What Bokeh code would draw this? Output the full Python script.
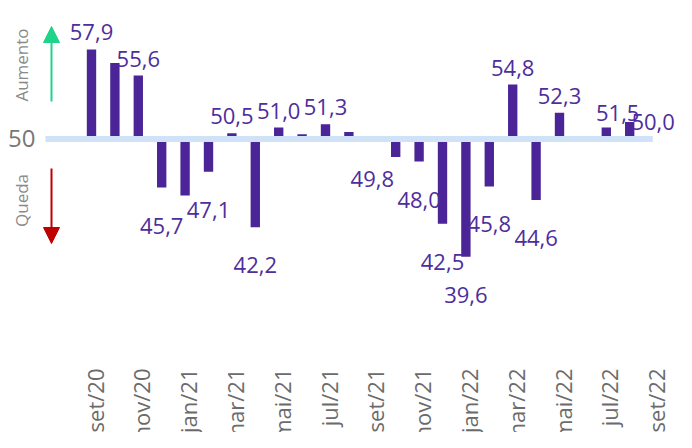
import math
from bokeh.plotting import figure
from bokeh.models import ColumnDataSource, Range1d, Arrow, NormalHead
from bokeh.core.properties import value
from bokeh.embed import file_html
from bokeh.resources import INLINE

# ---------------- data ----------------
months = ["set/20", "out/20", "nov/20", "dez/20", "jan/21", "fev/21", "mar/21",
          "abr/21", "mai/21", "jun/21", "jul/21", "ago/21", "set/21", "out/21",
          "nov/21", "dez/21", "jan/22", "fev/22", "mar/22", "abr/22", "mai/22",
          "jun/22", "jul/22", "ago/22", "set/22"]
pmi = [57.9, 56.7, 55.6, 45.7, 45.0, 47.1, 50.5, 42.2, 51.0, 50.4, 51.3, 50.6,
       49.8, 48.4, 48.0, 42.5, 39.6, 45.8, 54.8, 44.6, 52.3, 50.2, 51.0, 51.5, 50.0]
shown = [1, 0, 1, 1, 0, 1, 1, 1, 1, 0, 1, 0, 1, 0, 1, 1, 1, 1, 1, 1, 1, 0, 0, 1, 1]
neutral = 50
neutral_label = "50"
tick_every = 2
up_text = "Aumento"
down_text = "Queda"

# ---------------- styles / geometry ----------------
BAR = "#4b2597"
LBL = "#4e2d9c"
GRAY = "#777777"
BAND = "#cfe2f7"
FONT = value("Open Sans")
W, H = 676, 432
SX = 23.4           # px per month
X0 = 91             # px of first bar
PPU = 11.32         # px per index point
Y50 = 138.4         # px of the neutral line


def xd(px):
    return -X0 / SX + px / SX


def yd(py):
    return neutral + (Y50 - py) / PPU


idx = list(range(len(pmi)))

p = figure(width=W, height=H, output_backend="svg", toolbar_location=None,
           x_range=Range1d(xd(0), xd(W)), y_range=Range1d(yd(H), yd(0)),
           x_axis_location=None, y_axis_location=None,
           min_border_left=0, min_border_right=0, min_border_top=0, min_border_bottom=0)
p.outline_line_color = None
p.xgrid.visible = False
p.ygrid.visible = False
p.background_fill_color = "white"
p.border_fill_color = "white"

# bars
src = ColumnDataSource(dict(x=idx, top=pmi, bottom=[neutral] * len(pmi)))
p.vbar(x="x", top="top", bottom="bottom", width=0.4, source=src,
       fill_color=BAR, line_color=None)

# neutral band (drawn over the bar bases)
p.segment(x0=[xd(45)], x1=[xd(45) + (len(pmi) - 1 + 0.5) * 1 + (X0 - 45 - 12) / SX],
          y0=[neutral], y1=[neutral], line_color=BAND, line_width=6, line_cap="butt")

# neutral value label
p.text(x=[xd(35)], y=[neutral], text=[neutral_label], text_align="right",
       text_baseline="middle", text_font=FONT, text_font_size="24px", text_color=GRAY)

# data labels
px, py, pt, nx, ny, nt = [], [], [], [], [], []
for i, v in enumerate(pmi):
    if not shown[i]:
        continue
    t = f"{v:.1f}".replace(".", ",")
    if v >= neutral:
        px.append(i); py.append(v); pt.append(t)
    else:
        nx.append(i); ny.append(v); nt.append(t)
last = len(pmi) - 2
xo = [(-12 if x == last else 0) for x in px]
yo = [(-9 if x == last else -17) for x in px]
p.text(x=px, y=py, text=pt, x_offset=xo, y_offset=yo, text_align="center",
       text_baseline="alphabetic", text_font=FONT, text_font_size="22px", text_color=LBL)
p.text(x=nx, y=ny, text=nt, y_offset=38, text_align="center",
       text_baseline="alphabetic", text_font=FONT, text_font_size="22px", text_color=LBL)

# month labels (every other month), rotated
mx = idx[::tick_every]
mt = months[::tick_every]
p.text(x=mx, y=[yd(368)] * len(mx), text=mt, angle=math.pi / 2, x_offset=3,
       text_align="right", text_baseline="middle", text_font=FONT,
       text_font_size="22px", text_color="#6b6b6b")

# arrows
ax = xd(51)
p.add_layout(Arrow(x_start=ax, y_start=yd(101), x_end=ax, y_end=yd(26),
                   line_color="#1fd38b", line_width=2,
                   end=NormalHead(size=16, fill_color="#1fd38b", line_color="#1fd38b")))
p.add_layout(Arrow(x_start=ax, y_start=yd(168), x_end=ax, y_end=yd(243),
                   line_color="#c00000", line_width=2,
                   end=NormalHead(size=16, fill_color="#c00000", line_color="#c00000")))

# side captions
p.text(x=[xd(21), xd(21)], y=[yd(64.5), yd(200)], text=[up_text, down_text],
       angle=math.pi / 2, text_align="center", text_baseline="middle",
       text_font=FONT, text_font_size="17px", text_color="#8a8a8a")

open("out.html", "w").write(file_html(p, INLINE))
